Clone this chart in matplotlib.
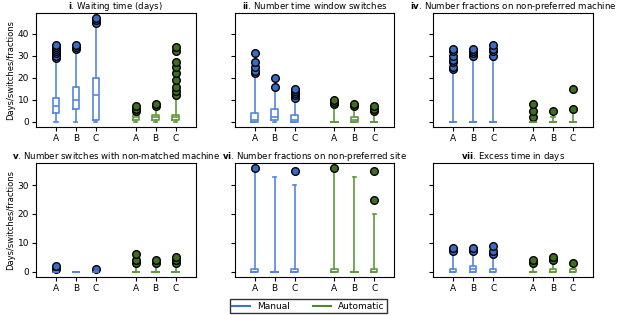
import matplotlib
matplotlib.use('Agg')
import matplotlib.pyplot as plt
from matplotlib.lines import Line2D
from matplotlib.ticker import MultipleLocator

categories = ['A', 'B', 'C']
groups = ['Manual', 'Automatic']
titles = [r'$\bf{i}$. Waiting time (days)',
          r'$\bf{ii}$. Number time window switches',
          r'$\bf{iv}$. Number fractions on non-preferred machine',
          r'$\bf{v}$. Number switches with non-matched machine',
          r'$\bf{vi}$. Number fractions on non-preferred site',
          r'$\bf{vii}$. Excess time in days']

# box stats per category: [whislo, q1, med, q3, whishi]
wait_manual = [[0, 4, 7, 11, 28], [0, 6, 10, 16, 32], [0, 1, 12, 20, 44]]
wait_manual_fl = [[29, 30, 31, 32, 33, 34, 35], [33, 34, 35], [45, 46, 47]]
wait_auto = [[0, 1, 2, 3, 4], [0, 1, 2, 3, 6], [0, 1, 2, 3, 11]]
wait_auto_fl = [[5, 6, 7], [7, 8], [12, 14, 16, 19, 22, 25, 27, 32, 34]]

tw_manual = [[0, 0, 1, 4, 21], [0, 1, 2, 6, 15], [0, 0, 1, 3, 10]]
tw_manual_fl = [[22, 23, 25, 27, 31], [16, 20], [11, 12, 13, 14, 15]]
tw_auto = [[0, 0, 0, 0, 7], [0, 0, 1, 2, 6], [0, 0, 0, 0, 4]]
tw_auto_fl = [[8, 9, 10], [7, 8], [5, 6, 7]]

mach_manual = [[0, 0, 0, 0, 23], [0, 0, 0, 0, 28], [0, 0, 0, 0, 28]]
mach_manual_fl = [[24, 25, 27, 28, 30, 32, 33], [30, 31, 32, 33], [30, 32, 33, 35]]
mach_auto = [[0, 0, 0, 0, 0], [0, 0, 0, 0, 2], [0, 0, 0, 0, 5]]
mach_auto_fl = [[2, 5, 8], [5], [6, 15]]

match_manual = [[0, 0, 0, 0, 0], [0, 0, 0, 0, 0], [0, 0, 0, 0, 0]]
match_manual_fl = [[1, 2], [], [1]]
match_auto = [[0, 0, 0, 0, 2], [0, 0, 0, 0, 2], [0, 0, 0, 0, 2]]
match_auto_fl = [[3, 4, 6], [3, 4], [3, 4, 5]]

site_manual = [[0, 0, 0, 1, 35], [0, 0, 0, 0, 33], [0, 0, 0, 1, 30]]
site_manual_fl = [[36], [], [35]]
site_auto = [[0, 0, 0, 1, 35], [0, 0, 0, 0, 33], [0, 0, 0, 1, 20]]
site_auto_fl = [[36], [], [25, 35]]

excess_manual = [[0, 0, 0, 1, 6], [0, 0, 1, 2, 6], [0, 0, 0, 1, 5]]
excess_manual_fl = [[7, 8], [7, 8], [6, 7, 9]]
excess_auto = [[0, 0, 0, 0, 2], [0, 0, 0, 1, 3], [0, 0, 0, 1, 1]]
excess_auto_fl = [[3, 4], [4, 5], [3]]

panels = [(wait_manual, wait_manual_fl, wait_auto, wait_auto_fl),
          (tw_manual, tw_manual_fl, tw_auto, tw_auto_fl),
          (mach_manual, mach_manual_fl, mach_auto, mach_auto_fl),
          (match_manual, match_manual_fl, match_auto, match_auto_fl),
          (site_manual, site_manual_fl, site_auto, site_auto_fl),
          (excess_manual, excess_manual_fl, excess_auto, excess_auto_fl)]

line_colors = ['#5486de', '#5f9a3c']
face_colors = ['#3a6cc4', '#3f6e20']
legend_colors = ['#3a74d4', '#4b8a2b']


def make_stats(rows, fliers):
    out = []
    for (lo, q1, med, q3, hi), fl in zip(rows, fliers):
        out.append(dict(whislo=lo, q1=q1, med=med, q3=q3, whishi=hi, fliers=fl))
    return out


plt.rcParams['font.size'] = 6.5
fig, axes = plt.subplots(2, 3, figsize=(6.17, 3.15), dpi=100, sharey='row')
fig.subplots_adjust(left=0.0583, right=0.961, top=0.9587, bottom=0.1216,
                    wspace=0.245, hspace=0.313)

for k, ax in enumerate(axes.flat):
    man, man_fl, aut, aut_fl = panels[k]
    for g, (rows, fl, pos) in enumerate([(man, man_fl, [0, 1, 2]),
                                          (aut, aut_fl, [4, 5, 6])]):
        c = line_colors[g]
        lp = dict(color=c, linewidth=1.2)
        ax.bxp(make_stats(rows, fl), positions=pos, widths=0.32,
               boxprops=lp, whiskerprops=lp, capprops=lp, medianprops=lp,
               flierprops=dict(marker='o', markerfacecolor=face_colors[g],
                               markeredgecolor='black', markersize=5.5,
                               markeredgewidth=1.0))
    ax.set_xlim(-1, 7)
    ax.set_xticks([0, 1, 2, 4, 5, 6])
    ax.set_xticklabels(categories + categories)
    ax.yaxis.set_major_locator(MultipleLocator(10))
    ax.tick_params(labelsize=6.5, length=3, pad=2)
    ax.set_title(titles[k], fontsize=6.2, pad=3)
    if k % 3 == 0:
        ax.set_ylabel('Days/switches/fractions', fontsize=6, labelpad=2)
    else:
        ax.tick_params(labelleft=False)

handles = [Line2D([], [], color=legend_colors[i], linewidth=1.5) for i in range(2)]
fig.legend(handles, groups, loc='center', bbox_to_anchor=(0.5, 0.028), ncol=2,
           fancybox=False, edgecolor='black', fontsize=6.5, columnspacing=2.5,
           borderpad=0.3)

fig.savefig('out.png', dpi=100)
